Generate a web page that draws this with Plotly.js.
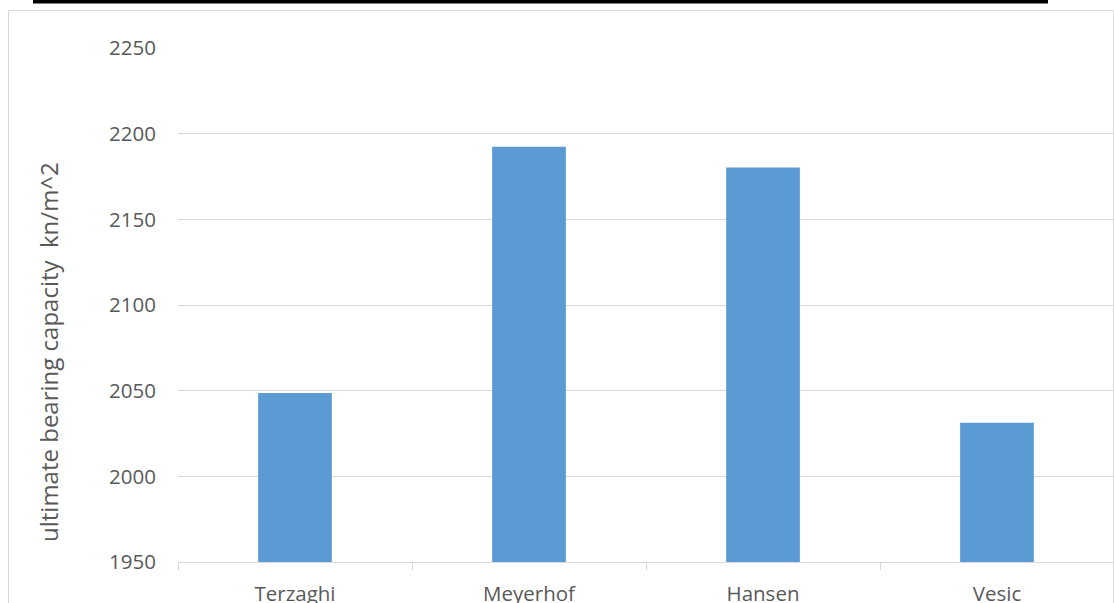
<!DOCTYPE html>
<html>
<head>
<meta charset="utf-8">
<script src="https://cdn.plot.ly/plotly-3.0.1.min.js"></script>
<style>html,body{margin:0;padding:0;background:#fff;}#chart{width:1114px;height:603px;}</style>
</head>
<body>
<div id="chart"></div>
<script>
var categories = ["Terzaghi", "Meyerhof", "Hansen", "Vesic"];
var capacity = [2048.6, 2192.3, 2180.2, 2031.3];
var yTickValues = [1950, 2000, 2050, 2100, 2150, 2200, 2250];
var yTitle = "ultimate bearing capacity  kn/m^2";

var W = 1114, H = 603;
var L = 178, R = 1114, T = 48, B = 562;
function px(x){ return (x - L) / (R - L); }
function py(y){ return (B - y) / (B - T); }

var textColor = "#595959";
var gridColor = "#D9D9D9";
var font = "Open Sans, Liberation Sans, sans-serif";

var trace = {
  type: "bar",
  x: categories,
  y: capacity,
  marker: {color: "#5B9BD5", line: {width: 0}},
  hoverinfo: "x+y"
};

var layout = {
  width: W, height: H,
  margin: {l: L, r: W - R, t: T, b: H - B, pad: 0},
  paper_bgcolor: "#fff",
  plot_bgcolor: "#fff",
  showlegend: false,
  bargap: 0.685,
  font: {family: font, color: textColor, size: 20},
  xaxis: {
    type: "category",
    showgrid: false,
    showline: true, linecolor: gridColor, linewidth: 1,
    ticks: "outside", tickson: "boundaries", ticklen: 7, tickcolor: gridColor, tickwidth: 1,
    tickfont: {family: font, color: textColor, size: 20.5},
    ticklabelstandoff: 13,
    fixedrange: true
  },
  yaxis: {
    range: [1950, 2250],
    tickvals: yTickValues,
    ticktext: yTickValues.map(String),
    showgrid: true, gridcolor: gridColor, gridwidth: 1,
    zeroline: false, showline: false, ticks: "",
    tickfont: {family: font, color: textColor, size: 20.5},
    ticklabelstandoff: 21,
    fixedrange: true
  },
  annotations: [{
    text: yTitle,
    xref: "paper", yref: "paper",
    x: px(48), y: py(352),
    xanchor: "center", yanchor: "middle",
    textangle: -90, showarrow: false,
    font: {family: font, color: textColor, size: 24}
  }],
  shapes: [
    {type: "rect", xref: "paper", yref: "paper",
     x0: px(8.5), x1: px(1113.5), y0: py(10.5), y1: py(640),
     line: {color: gridColor, width: 1}, fillcolor: "rgba(0,0,0,0)", layer: "below"},
    {type: "rect", xref: "paper", yref: "paper",
     x0: px(33), x1: px(1048), y0: py(-2), y1: py(3.5),
     line: {width: 0}, fillcolor: "#000"}
  ]
};

Plotly.newPlot("chart", [trace], layout, {displayModeBar: false, staticPlot: true});
</script>
</body>
</html>
